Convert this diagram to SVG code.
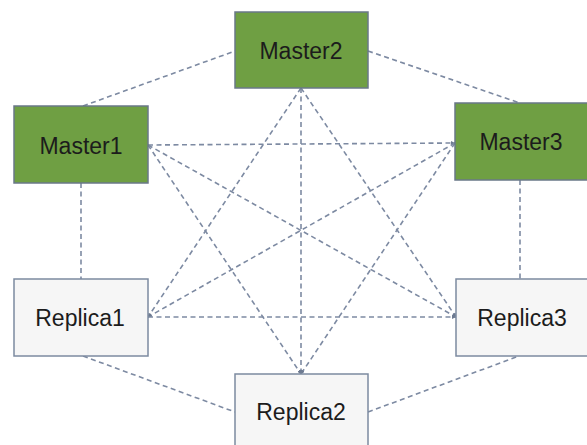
<svg xmlns="http://www.w3.org/2000/svg" width="587" height="445" viewBox="0 0 587 445">
<style>
.master rect{fill:#6f9f43;stroke:#6a7888;stroke-width:1.5}
.replica rect{fill:#f6f6f6;stroke:#7c8aa0;stroke-width:1.5}
text{font-family:"Liberation Sans",Arial,sans-serif;font-size:23px;fill:#1c1c1c;text-anchor:middle}
#connectors line{stroke:#7d8aa2;stroke-width:1.6;stroke-dasharray:5 3.5;fill:none}
</style>
<defs>
<marker id="tip" viewBox="0 0 6 6" refX="6" refY="3" markerWidth="4" markerHeight="4" orient="auto" markerUnits="userSpaceOnUse">
<path d="M0,0 L6,3 L0,6 z" fill="#6d7a90"/>
</marker>
</defs>
<rect width="587" height="445" fill="#ffffff"/>
<g id="connectors">
<line x1="83" y1="106" x2="235" y2="51"/>
<line x1="368" y1="51" x2="520" y2="103"/>
<line x1="81" y1="183" x2="81" y2="279"/>
<line x1="520" y1="180" x2="520" y2="279"/>
<line x1="83" y1="356" x2="235" y2="412"/>
<line x1="368" y1="412" x2="519" y2="356"/>
<line x1="148" y1="145" x2="455" y2="143" marker-end="url(#tip)"/>
<line x1="148" y1="145" x2="301" y2="374" marker-end="url(#tip)"/>
<line x1="148" y1="145" x2="456" y2="317" marker-end="url(#tip)"/>
<line x1="301" y1="88" x2="148" y2="317" marker-end="url(#tip)"/>
<line x1="301" y1="88" x2="301" y2="374" marker-end="url(#tip)"/>
<line x1="301" y1="88" x2="456" y2="317" marker-end="url(#tip)"/>
<line x1="455" y1="143" x2="148" y2="317" marker-end="url(#tip)"/>
<line x1="455" y1="143" x2="301" y2="374" marker-end="url(#tip)"/>
<line x1="148" y1="317" x2="456" y2="317" marker-end="url(#tip)"/>
</g>
<g id="master1" class="master"><rect x="14" y="106" width="134" height="77"/><text x="81" y="154">Master1</text></g>
<g id="master2" class="master"><rect x="235" y="12" width="133" height="76"/><text x="301" y="59">Master2</text></g>
<g id="master3" class="master"><rect x="455" y="103" width="134" height="77"/><text x="521" y="150">Master3</text></g>
<g id="replica1" class="replica"><rect x="14" y="279" width="134" height="77"/><text x="80" y="326">Replica1</text></g>
<g id="replica2" class="replica"><rect x="235" y="374" width="133" height="77"/><text x="301" y="420">Replica2</text></g>
<g id="replica3" class="replica"><rect x="456" y="279" width="134" height="77"/><text x="522" y="326">Replica3</text></g>
</svg>
